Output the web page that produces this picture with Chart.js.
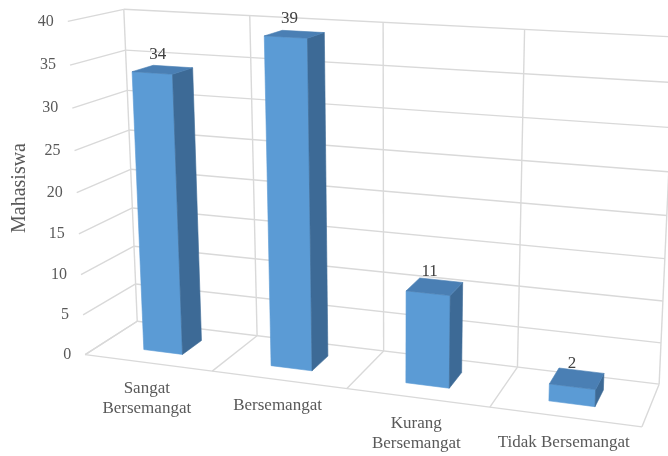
<!DOCTYPE html>
<html>
<head>
<meta charset="utf-8">
<script src="https://cdn.jsdelivr.net/npm/chart.js@4"></script>
<style>
  html, body { margin:0; padding:0; background:#fff; }
  #wrap { width:668px; height:456px; }
</style>
</head>
<body>
<div id="wrap"><canvas id="chart" width="668" height="456"></canvas></div>
<script>
const categories = [['Sangat', 'Bersemangat'], ['Bersemangat'], ['Kurang', 'Bersemangat'], ['Tidak Bersemangat']];
const mahasiswa = [34, 39, 11, 2];
const yTicks = [0, 5, 10, 15, 20, 25, 30, 35, 40];
const yTitle = 'Mahasiswa';

// where the corners of the 3-D box sit on the page: [u, v, w, x, y]
// u = along categories, v = up the value axis, w = depth (0 front, 1 back)
const frame = [
  [0, 1, 1, 124, 9],
  [0, 0, 1, 137, 322],
  [0, 1, 0, 67, 23],
  [0, 0, 0, 85, 353],
  [1, 0, 1, 657, 386],
  [1, 0, 0, 643, 427],
  [1, 1, 1, 673, 36],
  [0.75, 1, 1, 527, 29],
  [0.75, 0, 1, 519, 366]
];
const barDepth = [0.3, 0.7];

const gridColor = '#d9d9d9';
const textColor = '#595959';
const face = { front:'#5b9bd5', side:'#3d6a96', top:'#4a7fb4' };
const serif = '"Liberation Serif", "Times New Roman", serif';

// least squares fit of a 3x4 projection from the box corners
function fitCamera(pts){
  const M = Array.from({length:11}, () => new Array(12).fill(0));
  const add = (r, b) => {
    for(let i=0;i<11;i++){
      for(let j=0;j<11;j++) M[i][j] += r[i]*r[j];
      M[i][11] += r[i]*b;
    }
  };
  pts.forEach(([u,v,w,x,y]) => {
    add([u,v,w,1,0,0,0,0,-x*u,-x*v,-x*w], x);
    add([0,0,0,0,u,v,w,1,-y*u,-y*v,-y*w], y);
  });
  for(let c=0;c<11;c++){
    let p = c;
    for(let r=c+1;r<11;r++) if(Math.abs(M[r][c]) > Math.abs(M[p][c])) p = r;
    [M[c], M[p]] = [M[p], M[c]];
    for(let r=0;r<11;r++){
      if(r===c) continue;
      const f = M[r][c]/M[c][c];
      for(let k=c;k<12;k++) M[r][k] -= f*M[c][k];
    }
  }
  const p = M.map((row,i) => row[11]/row[i]);
  return (u,v,w) => {
    const d = p[8]*u + p[9]*v + p[10]*w + 1;
    return [(p[0]*u + p[1]*v + p[2]*w + p[3])/d, (p[4]*u + p[5]*v + p[6]*w + p[7])/d];
  };
}
const project = fitCamera(frame);

function line(ctx, a, b){
  ctx.beginPath(); ctx.moveTo(a[0], a[1]); ctx.lineTo(b[0], b[1]); ctx.stroke();
}
function poly(ctx, pts, color){
  ctx.beginPath();
  pts.forEach((p,i) => i ? ctx.lineTo(p[0], p[1]) : ctx.moveTo(p[0], p[1]));
  ctx.closePath();
  ctx.fillStyle = color; ctx.strokeStyle = color; ctx.lineWidth = 0.6;
  ctx.fill(); ctx.stroke();
}

const box3d = {
  id:'box3d',
  afterDatasetsDraw(chart){
    const {ctx, chartArea:a, scales:{x, y}} = chart;
    const U = px => (px - a.left)/(a.right - a.left);
    const V = val => (a.bottom - y.getPixelForValue(val))/(a.bottom - a.top);
    const n = categories.length;
    const edges = [];
    for(let k=0;k<=n;k++) edges.push(U(x.getPixelForValue(k - 0.5)));

    ctx.save();
    // walls and floor
    ctx.strokeStyle = gridColor; ctx.lineWidth = 1.4;
    yTicks.forEach(t => {
      const v = V(t);
      line(ctx, project(0, v, 1), project(1, v, 1));
      line(ctx, project(0, v, 0), project(0, v, 1));
    });
    edges.forEach(u => {
      line(ctx, project(u, 0, 1), project(u, 1, 1));
      line(ctx, project(u, 0, 0), project(u, 0, 1));
    });
    line(ctx, project(0, 0, 0), project(1, 0, 0));

    // columns
    const meta = chart.getDatasetMeta(0);
    const [w0, w1] = barDepth;
    meta.data.forEach((bar, i) => {
      const u0 = U(bar.x - bar.width/2), u1 = U(bar.x + bar.width/2);
      const v = V(mahasiswa[i]);
      poly(ctx, [project(u0,0,w0), project(u1,0,w0), project(u1,v,w0), project(u0,v,w0)], face.front);
      poly(ctx, [project(u1,0,w0), project(u1,0,w1), project(u1,v,w1), project(u1,v,w0)], face.side);
      poly(ctx, [project(u0,v,w0), project(u1,v,w0), project(u1,v,w1), project(u0,v,w1)], face.top);

      const c = project(U(bar.x), v, (w0 + w1)/2);
      ctx.fillStyle = '#404040';
      ctx.font = `17px ${serif}`;
      ctx.textAlign = 'center'; ctx.textBaseline = 'alphabetic';
      ctx.fillText(String(mahasiswa[i]), c[0] - 5, c[1] - 11);
    });

    // value axis labels on the side wall
    ctx.fillStyle = textColor;
    ctx.font = `16px ${serif}`;
    ctx.textAlign = 'right'; ctx.textBaseline = 'middle';
    yTicks.forEach(t => {
      const p = project(0, V(t), 0);
      ctx.fillText(String(t), p[0] - 14, p[1]);
    });

    // category labels under the front edge of the floor
    ctx.font = `17px ${serif}`;
    ctx.textAlign = 'center'; ctx.textBaseline = 'top';
    categories.forEach((lab, i) => {
      const p = project(U(x.getPixelForValue(i)), 0, 0);
      lab.forEach((s, j) => ctx.fillText(s, p[0] - 1, p[1] + 17 + j*20));
    });

    // axis title
    ctx.font = `20px ${serif}`;
    ctx.textAlign = 'center'; ctx.textBaseline = 'middle';
    ctx.translate(20, 188);
    ctx.rotate(-Math.PI/2);
    ctx.fillText(yTitle, 0, 0);
    ctx.restore();
  }
};

new Chart(document.getElementById('chart'), {
  type:'bar',
  data:{
    labels: categories,
    datasets:[{ data: mahasiswa, backgroundColor:'rgba(0,0,0,0)', borderWidth:0, barPercentage:0.31, categoryPercentage:1 }]
  },
  options:{
    responsive:false, animation:false, devicePixelRatio:1,
    layout:{ padding:0 },
    plugins:{ legend:{ display:false }, tooltip:{ enabled:false } },
    scales:{
      x:{ display:false },
      y:{ display:false, min:0, max:40 }
    }
  },
  plugins:[box3d]
});
</script>
</body>
</html>
